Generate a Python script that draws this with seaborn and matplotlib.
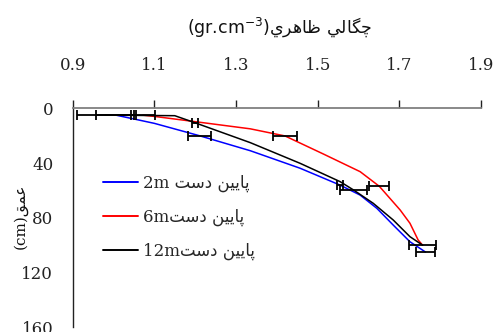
import matplotlib
matplotlib.use("Agg")
import matplotlib.pyplot as plt
import seaborn as sns
import pandas as pd
from matplotlib.font_manager import FontProperties

# ---- data ----
series_names = ["2m", "6m", "12m"]

blue_x = [1.006, 1.10, 1.21, 1.335, 1.457, 1.554, 1.604, 1.645, 1.685, 1.726, 1.764]
blue_d = [5, 11, 20, 31, 43.8, 56, 63.4, 73.1, 85.3, 97.5, 105]

red_x = [1.072, 1.102, 1.188, 1.335, 1.42, 1.514, 1.604, 1.651, 1.702, 1.726, 1.746, 1.757]
red_d = [5, 6, 9.3, 15, 20.2, 33.4, 46.3, 57, 74.3, 84, 96.2, 100]

black_x = [0.98, 1.15, 1.199, 1.335, 1.457, 1.555, 1.588, 1.636, 1.685, 1.726, 1.757]
black_d = [5, 5.4, 10.5, 25.1, 40.2, 53.6, 59.7, 69.4, 81.6, 93.8, 100]

# error bar points (mean density, depth, +/- error)
blue_ex = [1.006, 1.21, 1.554, 1.764]
blue_ed = [5, 20, 56, 105]
blue_ee = [0.0485, 0.0287, 0.0073, 0.0236]

red_ex = [1.072, 1.42, 1.651, 1.757]
red_ed = [5, 20.2, 57, 100]
red_ee = [0.0297, 0.0287, 0.0245, 0.0327]

black_ex = [0.98, 1.199, 1.588]
black_ed = [5, 10.5, 60]
black_ee = [0.069, 0.0073, 0.0327]

x_ticks = [0.9, 1.1, 1.3, 1.5, 1.7, 1.9]
y_ticks = [0, 40, 80, 120, 160]

# Persian text in visual order (presentation forms)
downstream = "\uFE96\uFEB3\uFEA9 \uFEE6\uFEF4\uFEF3\uFE8E\uFB58"   # پايين دست
labels = ["2m " + downstream, "6m" + downstream, "12m" + downstream]
title_fa = "\uFEF1\uFEAE\uFEEB\uFE8E\uFEC7 \uFEF2\uFEDF\uFE8E\uFB95\uFB7C"  # چگالي ظاهري
ylabel_fa = "\uFED6\uFEE4\uFECB"  # عمق

colors = ["#0000ff", "#ff0000", "#000000"]

# ---- build long table ----
frames = []
for name, xs, ds in zip(labels, [blue_x, red_x, black_x], [blue_d, red_d, black_d]):
    frames.append(pd.DataFrame({"density": xs, "depth": ds, "series": name}))
df = pd.concat(frames, ignore_index=True)

sns.set_style("white")
plt.rcParams["font.family"] = ["DejaVu Serif", "DejaVu Sans"]
plt.rcParams["mathtext.fontset"] = "dejavusans"

fig = plt.figure(figsize=(4.97, 3.32), dpi=100)
ax = fig.add_axes([72.7 / 497, 1 - 327.3 / 332, (481 - 72.7) / 497, (327.3 - 108.3) / 332])

sns.lineplot(data=df, x="density", y="depth", hue="series", palette=colors,
             sort=False, estimator=None, linewidth=1.1, ax=ax, legend=True)

for ex, ed, ee in [(blue_ex, blue_ed, blue_ee), (red_ex, red_ed, red_ee),
                   (black_ex, black_ed, black_ee)]:
    ax.errorbar(ex, ed, xerr=ee, fmt="none", ecolor="black", elinewidth=1.3,
                capsize=3.5, capthick=1.3, zorder=5)

ax.set_xlim(0.9, 1.9)
ax.set_ylim(160, 0)
ax.set_xticks(x_ticks)
ax.set_xticklabels([f"{v:.1f}" for v in x_ticks])
ax.set_yticks(y_ticks)
ax.set_yticklabels([str(v) for v in y_ticks])
ax.xaxis.tick_top()
ax.tick_params(axis="x", direction="out", length=6, width=1, pad=18.5, labelsize=12,
               colors="#222222")
ax.tick_params(axis="y", direction="out", length=6, width=1, pad=8, labelsize=12,
               colors="#222222")
for lab in ax.get_xticklabels() + ax.get_yticklabels():
    lab.set_family(["DejaVu Serif"])

ax.spines["right"].set_visible(False)
ax.spines["bottom"].set_visible(False)
ax.spines["top"].set_color("#808080")
ax.spines["top"].set_linewidth(1.3)
ax.spines["left"].set_color("#222222")
ax.spines["left"].set_linewidth(1.0)
ax.set_xlabel("")
ax.set_ylabel("")
ax.grid(False)

handles, labs = ax.get_legend_handles_labels()
leg = ax.legend(handles, labs, loc="upper left", bbox_to_anchor=(95 / 497, 1 - 166 / 332),
                bbox_transform=fig.transFigure, frameon=False,
                prop=FontProperties(family=["DejaVu Serif", "DejaVu Sans"], size=12),
                handlelength=2.1, handletextpad=0.3, labelspacing=1.02, borderpad=0)
for line in leg.get_lines():
    line.set_linewidth(1.4)

fig.text(280 / 497, 1 - 27 / 332, "(gr.cm$^{-3}$)" + title_fa, ha="center", va="center",
         fontsize=12.5, family=["DejaVu Sans"], color="#111111")
fig.text(20 / 497, 1 - 216 / 332, "(cm)" + ylabel_fa, ha="center", va="center",
         rotation=90, fontsize=11, family=["DejaVu Serif", "DejaVu Sans"], color="#111111")

fig.savefig("out.png", dpi=100)
